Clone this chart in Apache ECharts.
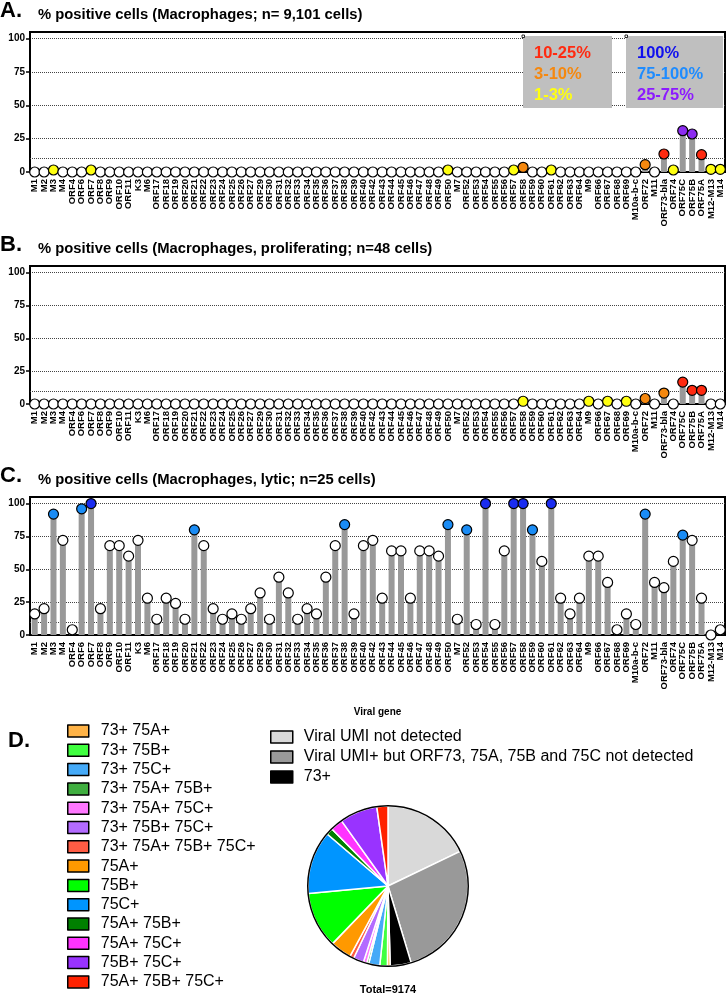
<!DOCTYPE html>
<html><head><meta charset="utf-8">
<script src="https://cdn.jsdelivr.net/npm/echarts@6/dist/echarts.min.js"></script>
<style>html,body{margin:0;padding:0;background:#fff}#c{width:727px;height:1000px}</style>
</head><body><div id="c"></div>
<script>
// ---------- data ----------
const genes = ['M1','M2','M3','M4','ORF4','ORF6','ORF7','ORF8','ORF9','ORF10','ORF11','K3','M6','ORF17','ORF18','ORF19','ORF20','ORF21','ORF22','ORF23','ORF24','ORF25','ORF26','ORF27','ORF29','ORF30','ORF31','ORF32','ORF33','ORF34','ORF35','ORF36','ORF37','ORF38','ORF39','ORF40','ORF42','ORF43','ORF44','ORF45','ORF46','ORF47','ORF48','ORF49','ORF50','M7','ORF52','ORF53','ORF54','ORF55','ORF56','ORF57','ORF58','ORF59','ORF60','ORF61','ORF62','ORF63','ORF64','M9','ORF66','ORF67','ORF68','ORF69','M10a-b-c','ORF72','M11','ORF73-bla','ORF74','ORF75C','ORF75B','ORF75A','M12-M13','M14'];

// A. all macrophages (n = 9,101)
const pctAll = [0,0,1.5,0,0,0,1.5,0,0,0,0,0,0,0,0,0,0,0,0,0,0,0,0,0,0,0,0,0,0,0,0,0,0,0,0,0,0,0,0,0,0,0,0,0,1.5,0,0,0,0,0,0,1.5,3.5,0,0,1.5,0,0,0,0,0,0,0,0,0,5.5,0,13.5,1.5,31,28.5,13,2,2];
// B. proliferating (n = 48)
const pctProlif = [0,0,0,0,0,0,0,0,0,0,0,0,0,0,0,0,0,0,0,0,0,0,0,0,0,0,0,0,0,0,0,0,0,0,0,0,0,0,0,0,0,0,0,0,0,0,0,0,0,0,0,0,2.08,0,0,0,0,0,0,2.08,0,2.08,0,2.08,0,4.17,0,8.33,0,16.67,10.42,10.42,0,0];
// C. lytic (n = 25)
const pctLytic = [16,20,92,72,4,96,100,20,68,68,60,72,28,12,28,24,12,80,68,20,12,16,12,20,32,12,44,32,12,20,16,44,68,84,16,68,72,28,64,64,28,64,64,60,84,12,80,8,100,8,64,100,100,80,56,100,28,16,28,60,60,40,4,16,8,92,40,36,56,76,72,28,0,4];

const yTickValues = [0,25,50,75,100];
const extraLine = 10;

const rangeLabelsLow = ['10-25%','3-10%','1-3%'];
const rangeLabelsHigh = ['100%','75-100%','25-75%'];

const pieNames = ['Viral UMI not detected','Viral UMI+ but ORF73, 75A, 75B and 75C not detected','73+','73+ 75A+','73+ 75B+','73+ 75C+','73+ 75A+ 75B+','73+ 75A+ 75C+','73+ 75B+ 75C+','73+ 75A+ 75B+ 75C+','75A+','75B+','75C+','75A+ 75B+','75A+ 75C+','75B+ 75C+','75A+ 75B+ 75C+'];
const pieCounts = [1640,2520,387,51,140,204,38,64,191,76,395,1037,1170,127,229,700,205];
const totalCells = 9174;

// ---------- styles ----------
const FONT = "'Liberation Sans', Arial, sans-serif";
const C_DARKBLUE = '#1a2cf0', C_LBLUE = '#1a8cf5', C_PURPLE = '#8c2cf0', C_RED = '#ff2a10', C_ORANGE = '#f5880f', C_YELLOW = '#ffff10';
const pieColors = ['#d9d9d9','#999999','#000000','#ffb347','#40ff40','#45aaf8','#3fae3f','#ff77ff','#b36bff','#ff5c44','#ff9900','#00ff00','#0095ff','#008000','#ff33ff','#9933ff','#ff2200'];

function dotColor(v, lyticOnly) {
  if (v >= 100) return C_DARKBLUE;
  if (v >= 75) return C_LBLUE;
  if (lyticOnly) return '#ffffff';
  if (v >= 25) return C_PURPLE;
  if (v >= 10) return C_RED;
  if (v >= 3) return C_ORANGE;
  if (v >= 1) return C_YELLOW;
  return '#ffffff';
}

const grids = [
  {left:30, right:2, top:32, height:140},
  {left:30, right:2, top:266, height:138},
  {left:30, right:2, top:497, height:138}
];

function xAx(i, name) {
  return {
    type:'category', gridIndex:i, data:genes, boundaryGap:true,
    axisLine:{lineStyle:{color:'#000', width:2}},
    axisTick:{alignWithLabel:true, length:4, lineStyle:{color:'#000', width:1.5}},
    axisLabel:{rotate:90, interval:0, fontSize:9.5, fontWeight:'bold', color:'#000', fontFamily:FONT, margin:7},
    name: name || '', nameLocation:'middle', nameGap:72,
    nameTextStyle:{fontSize:10, fontWeight:'bold', color:'#000', fontFamily:FONT}
  };
}
function yAx(i) {
  return {
    type:'value', gridIndex:i, min:0, max:105, interval:25,
    axisLine:{show:true, lineStyle:{color:'#000', width:2}},
    axisTick:{show:true, length:4, lineStyle:{color:'#000', width:1.5}, customValues:yTickValues},
    axisLabel:{fontSize:10, fontWeight:'bold', color:'#000', fontFamily:FONT, margin:5, customValues:yTickValues,
      formatter: v => (yTickValues.indexOf(v) >= 0 ? String(v) : '')},
    splitLine:{show:true, lineStyle:{color:'#444', width:1, type:'dotted'}}
  };
}

const panels = [pctAll, pctProlif, pctLytic];
const series = [];
panels.forEach((vals, i) => {
  series.push({
    type:'bar', xAxisIndex:i, yAxisIndex:i, data:vals, barWidth:6, z:2,
    itemStyle:{color:'#999999'}, silent:true,
    markLine:{silent:true, symbol:'none', label:{show:false}, z:1,
      lineStyle:{color:'#444', width:1, type:'dotted'}, data:[{yAxis:extraLine}]}
  });
  series.push({
    type:'scatter', xAxisIndex:i, yAxisIndex:i, data:vals, symbolSize:10, z:5, silent:true,
    itemStyle:{borderColor:'#000', borderWidth:1.2, opacity:1,
      color: p => dotColor(p.value, i === 2)}
  });
});

const pieData = pieNames.map((n, k) => ({name:n, value:pieCounts[k], itemStyle:{color:pieColors[k]}}));
series.push({
  type:'pie', center:[388, 886], radius:80, startAngle:90, clockwise:true, silent:true,
  label:{show:false}, labelLine:{show:false}, avoidLabelOverlap:false,
  itemStyle:{borderColor:'#fff', borderWidth:1.5}, data:pieData, z:3
});
series.push({
  type:'pie', center:[388, 886], radius:[79.5, 81], silent:true, label:{show:false}, labelLine:{show:false},
  data:[{name:'__outline', value:1, itemStyle:{color:'#000'}}], z:4, legendHoverLink:false
});

function txt(text, x, y, size, color, weight, align) {
  return {type:'text', z:100, style:{text, x, y, fill:color || '#000', font:`${weight||'bold'} ${size}px ${FONT}`,
    align: align || 'left', verticalAlign:'middle'}};
}
const titles = [
  ['A.', '% positive cells (Macrophages; n= 9,101 cells)', 11, 15],
  ['B.', '% positive cells (Macrophages, proliferating; n=48 cells)', 245, 249],
  ['C.', '% positive cells (Macrophages, lytic; n=25 cells)', 476, 480]
];
const graphics = [];
titles.forEach(t => {
  graphics.push(txt(t[0], 0, t[2], 22, '#000'));
  graphics.push(txt(t[1], 38, t[3], 14.8, '#000'));
});
graphics.push(txt('D.', 8, 741, 22, '#000'));
graphics.push(txt('Total=' + totalCells, 388, 990, 11, '#000', 'bold', 'center'));
// range key boxes in panel A
graphics.push({type:'rect', z:99, shape:{x:523, y:36, width:89, height:72}, style:{fill:'#bfbfbf'}});
graphics.push({type:'rect', z:99, shape:{x:626, y:36, width:97, height:72}, style:{fill:'#bfbfbf'}});
graphics.push({type:'rect', z:101, shape:{x:522, y:35, width:2.5, height:2.5}, style:{fill:'#fff', stroke:'#000', lineWidth:0.8}});
graphics.push({type:'rect', z:101, shape:{x:625, y:35, width:2.5, height:2.5}, style:{fill:'#fff', stroke:'#000', lineWidth:0.8}});
const lowCols = [C_RED, C_ORANGE, C_YELLOW], highCols = ['#1010ee', '#1e8cff', '#8c1aff'];
rangeLabelsLow.forEach((s, k) => graphics.push(txt(s, 534, 53 + k*21, 16.5, lowCols[k])));
rangeLabelsHigh.forEach((s, k) => graphics.push(txt(s, 637, 53 + k*21, 16.5, highCols[k])));

const option = {
  animation:false,
  backgroundColor:'#fff',
  grid: grids.map(g => Object.assign({show:true, borderColor:'#000', borderWidth:2, backgroundColor:'transparent'}, g)),
  xAxis: [xAx(0), xAx(1), xAx(2, 'Viral gene')],
  yAxis: [yAx(0), yAx(1), yAx(2)],
  legend: [
    {data: pieNames.slice(3), orient:'vertical', left:67, top:723, padding:0, itemGap:3.3, itemWidth:21, itemHeight:12,
     icon:'rect', selectedMode:false, itemStyle:{borderColor:'#000', borderWidth:1.5},
     textStyle:{fontSize:16, color:'#000', fontFamily:FONT, lineHeight:16, padding:[0,0,0,7]}},
    {data: pieNames.slice(0,3), orient:'vertical', left:270, top:729, padding:0, itemGap:4, itemWidth:22, itemHeight:12,
     icon:'rect', selectedMode:false, itemStyle:{borderColor:'#000', borderWidth:1.5},
     textStyle:{fontSize:16, color:'#000', fontFamily:FONT, lineHeight:16, padding:[0,0,0,6]}}
  ],
  graphic: graphics,
  series
};
const chart = echarts.init(document.getElementById('c'), null, {renderer:'canvas'});
chart.setOption(option);
</script></body></html>
